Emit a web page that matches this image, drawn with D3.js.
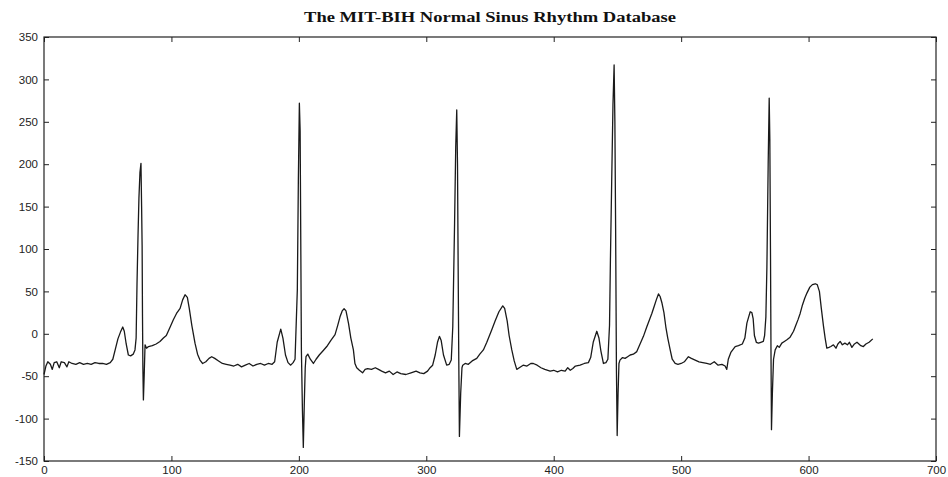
<!DOCTYPE html>
<html>
<head>
<meta charset="utf-8">
<script src="https://cdn.jsdelivr.net/npm/d3@7"></script>
<style>
  html, body { margin: 0; padding: 0; background: #fff; }
  .tick text { font-family: "Liberation Sans", Arial, sans-serif; font-size: 11.5px; fill: #222; }
  .title { font-family: "Liberation Serif", "Times New Roman", serif; font-size: 15px; font-weight: bold; fill: #111; }
</style>
</head>
<body>
<svg id="chart" width="948" height="477"></svg>
<script>
// ECG trace (sample index, amplitude)
const sampleX = [
  0,1.5,3,5,6.5,8,10,12,13.5,16,18,19.5,22,25,28,31,34,37,40,43,46,49,52,54,56,58,60,61.8,63,64.5,66.2,68,70,71.4,
  72.3,73,73.8,74.5,75.3,76.1,76.6,77,77.3,77.6,78,78.6,79.3,80.5,82,85,88,91,93.7,96,99,101.5,104,106.8,108.8,110.7,
  112.5,114,116,118.5,120.5,122.4,124.5,127,129.5,131.6,134,137,140,143,146,
  149,152,155,158,161,164,167,170,173,176,179,181,183,185.8,187.5,189.5,191.5,193.6,195.5,197,198.8,199.6,200.4,201,
  201.5,202,202.8,203.5,204.3,205,205.6,207,209,211.4,213.5,216,219,221.9,225,228.4,230.5,232.3,234,235.5,237,239,
  240.8,242.8,244,245.4,247.5,250,252,254,257,260,262.5,265,268,271,274,277,280,284,288,292,295,
  298,301,303,305,307,308.8,310.3,311.7,313.5,316,318,319.6,320.8,322.2,323.1,323.9,324.5,325,325.5,326,327,328,
  328.6,330.5,333,336,339.6,342,344.8,347.5,351.4,354,357,360,361.5,363.5,365,367.1,369,371,373,376,379,382,384,
  387,390,393,397.2,400,403,406,409,411,413,415,417,420.7,424,427.2,429,431,433.8,435.5,437,439,441,442.5,
  443.8,444.5,445.5,446.5,447.4,448,448.6,449.2,449.8,450.5,451.2,452,454,456,458,460,462.5,465.2,467.5,470.4,473,
  475,477,479,480.5,482.2,483.5,485,486.5,488,489.5,491.4,493,495.3,497.5,500,502.5,505.7,508,511,514,517,520.1,
  523,526,529,532,534.5,535.8,537,539,542.4,545,548,550,551.6,553,554.2,555.5,556.5,557.5,559,560.7,562.5,564.5,
  565.5,566.5,567.3,568.3,569.1,569.6,570.1,570.5,570.9,571.6,572.5,573.8,575.5,577,579,581,583,585.5,588.2,590,
  591.8,593.4,595,597,598.7,601,603,605.2,606.8,608.5,610,611.7,613,614.3,616,617.5,619.5,621.5,623,624.8,626.5,
  628.5,630.5,632,634,636,638,639.5,641,643,645,647.5,650.4
];
const sampleY = [
  -48,-38,-33,-36,-42,-34,-33,-40,-33,-34,-39,-33,-35,-36,-34,-36,-35,-36,-34,-35,-35,-36,-34,-30,-18,-6,2,8,3,-12,-25,-26,-24,-19,
  -5,60,117,160,190,201,150,104,20,-40,-78,-50,-13,-17,-15,-14,-12,-9,-5,-2,8,16.5,24,30,40,46,
  43,30,10,-11,-24,-31,-35,-33,-29,-27,-29,-32,-35,-36,-37,
  -38,-36,-39,-37,-35,-38,-36,-35,-37,-35,-36,-33,-10,5.5,-5,-25,-34,-37,-34,-30,52,180,272,240,
  110,-20,-90,-134,-80,-40,-27,-24,-30,-35,-30,-25,-20,-15,-8,-1,10,20,27,29.5,27,12,
  -5,-19,-35,-40,-43,-46,-42,-41,-42,-40,-42,-44,-46,-44,-48,-45,-47,-48,-46,-44,-46,
  -47,-44,-40,-37,-25,-10,-3,-8,-25,-37,-36,-31,8.7,130,220,264,200,80,-30,-121,-70,-40,
  -37,-35,-36,-32,-29,-24,-19,-10,4.7,15,26,33,30,15,-2,-19,-32,-42,-40,-37,-38,-35,-35,
  -37,-40,-42,-44,-43,-45,-43,-44,-40,-43,-41,-38,-37,-35,-34,-28,-10,3,-5,-20,-35,-34,-30,
  10,87,180,270,317,250,120,-40,-120,-70,-35,-31,-28,-29,-27,-25,-24,-21,-13,-3,8,
  16,24,33,40,47,44,36,25,8,-5,-19,-30,-35,-36,-35,-33,-27,-29,-31,-33,-34,-35,
  -36,-33,-37,-36,-38,-42,-30,-22,-15,-14,-12,-5,12.6,20,26,25,18,-2,-10,-11,-10,-9,
  -2,20,79,200,278,230,100,-20,-113,-70,-30,-19,-14,-16,-11,-9,-7,-4,3,10,
  17,24,33,42,48,55,58,59,58,50,30,9,-5,-17,-16,-15,-13,-17,-12,-9,-13,
  -11,-13,-10,-16,-12,-10,-12,-14,-15,-12,-10,-6
];
const xTicks = [0, 100, 200, 300, 400, 500, 600, 700];
const yTicks = [-150, -100, -50, 0, 50, 100, 150, 200, 250, 300, 350];
const titleText = "The MIT-BIH Normal Sinus Rhythm Database";

(function() {
  const svg = d3.select("#chart");
  const margin = { top: 37, right: 12, bottom: 16, left: 44 };
  const width = +svg.attr("width");
  const height = +svg.attr("height");
  const innerW = width - margin.left - margin.right;
  const innerH = height - margin.top - margin.bottom;

  const data = sampleX.map((v, i) => ({ x: v, y: sampleY[i] }));

  const x = d3.scaleLinear().domain([0, 700]).range([0, innerW]);
  const y = d3.scaleLinear().domain([-150, 350]).range([innerH, 0]);

  const g = svg.append("g").attr("transform", `translate(${margin.left},${margin.top})`);

  // title (scanned original is stretched wide)
  svg.append("text")
    .attr("class", "title")
    .attr("x", margin.left + innerW / 2)
    .attr("y", 22)
    .attr("text-anchor", "middle")
    .attr("textLength", 372)
    .attr("lengthAdjust", "spacingAndGlyphs")
    .text(titleText);

  // axes, ticks pointing inward (matlab style)
  const fmt = d => String(d);
  const bottom = g.append("g")
    .attr("transform", `translate(0,${innerH})`)
    .call(d3.axisBottom(x).tickValues(xTicks).tickFormat(fmt).tickSizeInner(-5).tickSizeOuter(0).tickPadding(5));
  const left = g.append("g")
    .call(d3.axisLeft(y).tickValues(yTicks).tickFormat(fmt).tickSizeInner(-5).tickSizeOuter(0).tickPadding(6));
  const top = g.append("g")
    .call(d3.axisTop(x).tickValues(xTicks).tickFormat("").tickSizeInner(-5).tickSizeOuter(0));
  const right = g.append("g")
    .attr("transform", `translate(${innerW},0)`)
    .call(d3.axisRight(y).tickValues(yTicks).tickFormat("").tickSizeInner(-5).tickSizeOuter(0));

  [bottom, left, top, right].forEach(a => {
    a.select(".domain").remove();
    a.selectAll("line").attr("stroke", "#222");
  });

  // frame
  g.append("rect")
    .attr("x", 0).attr("y", 0)
    .attr("width", innerW).attr("height", innerH)
    .attr("fill", "none")
    .attr("stroke", "#222")
    .attr("stroke-width", 1.2);

  // signal
  const line = d3.line().x(d => x(d.x)).y(d => y(d.y));
  g.append("path")
    .datum(data)
    .attr("fill", "none")
    .attr("stroke", "#1a1a1a")
    .attr("stroke-width", 1.3)
    .attr("stroke-linejoin", "round")
    .attr("d", line);
})();
</script>
</body>
</html>
